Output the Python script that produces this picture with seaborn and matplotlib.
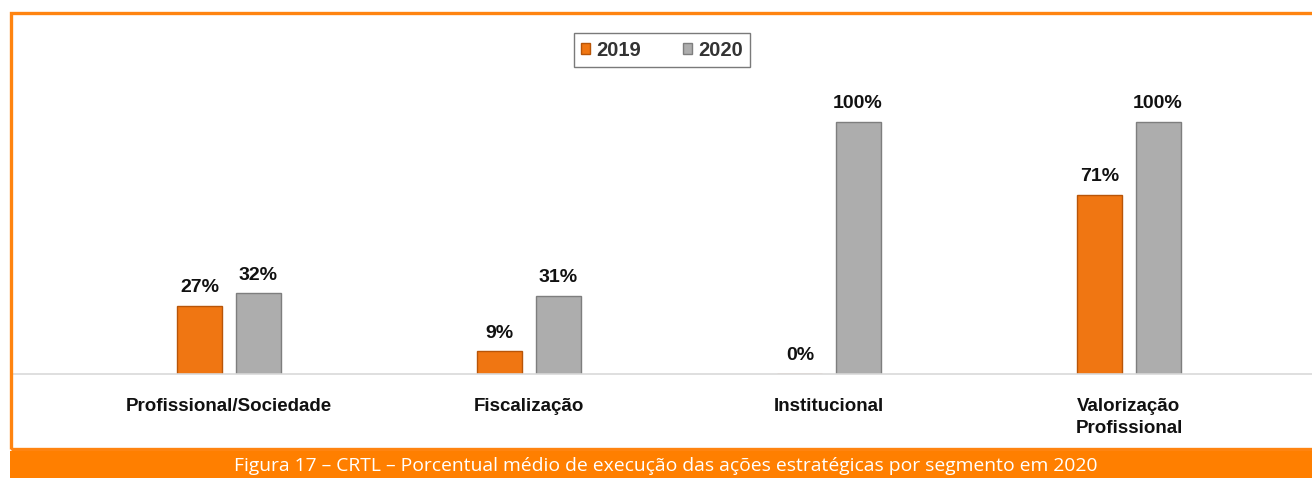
import pandas as pd
import seaborn as sns
import matplotlib.pyplot as plt
from matplotlib.patches import Rectangle

# data
segments = ["Profissional/Sociedade", "Fiscalização", "Institucional", "Valorização\nProfissional"]
years = ["2019", "2020"]
pct_2019 = [27, 9, 0, 71]
pct_2020 = [32, 31, 100, 100]
caption = "Figura 17 – CRTL – Porcentual médio de execução das ações estratégicas por segmento em 2020"

orange = "#F07612"
gray = "#ADADAD"

df = pd.DataFrame({
    "Segmento": segments * 2,
    "Ano": [years[0]] * len(segments) + [years[1]] * len(segments),
    "Pct": pct_2019 + pct_2020,
})

sns.set_style("white")
plt.rcParams["font.family"] = ["Liberation Sans", "DejaVu Sans"]

W, H = 1312, 478
fig = plt.figure(figsize=(W / 100, H / 100), dpi=100)

# axes placed in pixel terms: baseline at y=374, 100% at y=122
y_base, y_100 = 374, 122
ymax = 120
top_px = y_base - (y_base - y_100) * ymax / 100
ax = fig.add_axes([12 / W, (H - y_base) / H, 1 - 12 / W, (y_base - top_px) / H])

sns.barplot(data=df, x="Segmento", y="Pct", hue="Ano", palette=[orange, gray],
            saturation=1, width=0.388, gap=0.227, ax=ax, legend=True)

edges = {orange: "#B85508", gray: "#7E7E7E"}
for cont, col in zip(ax.containers, [orange, gray]):
    for bar in cont:
        bar.set_edgecolor(edges[col])
        bar.set_linewidth(1.0)
    ax.bar_label(cont, labels=[f"{v:.0f}%" for v in cont.datavalues],
                 padding=7, fontsize=14, fontweight="bold", color="#111111")

ax.set_xlim(-0.723, 3.61)
ax.set_ylim(0, ymax)
ax.set_xlabel("")
ax.set_ylabel("")
ax.set_yticks([])
ax.tick_params(axis="x", length=0, pad=17)
for lab in ax.get_xticklabels():
    lab.set_fontsize(13.5)
    lab.set_fontweight("bold")
    lab.set_color("#111111")
    lab.set_linespacing(1.45)
for s in ["top", "left", "right"]:
    ax.spines[s].set_visible(False)
ax.spines["bottom"].set_color("#D9D9D9")
ax.spines["bottom"].set_linewidth(1.2)

handles, labels = ax.get_legend_handles_labels()
ax.get_legend().remove()
for h in handles:
    h.set_edgecolor(edges[orange] if h.get_facecolor()[0] > 0.8 else edges[gray])
leg = fig.legend(handles, labels, loc="center", bbox_to_anchor=(662 / W, 1 - 50 / H),
                 ncol=2, frameon=True, fancybox=False, edgecolor="#595959",
                 handlelength=0.45, handleheight=0.45, handletextpad=0.3,
                 columnspacing=2.1, borderpad=0.35, borderaxespad=0,
                 prop={"weight": "bold", "size": 14.5})
leg.get_frame().set_linewidth(1.0)
for t in leg.get_texts():
    t.set_color("#333333")

# orange frame and caption band
fig.patches.append(Rectangle((11 / W, (H - 449) / H), 1.2, (449 - 13) / H,
                             transform=fig.transFigure, fill=False,
                             edgecolor="#FF8410", linewidth=2.4))
fig.patches.append(Rectangle((10 / W, 0), 1, (H - 451) / H,
                             transform=fig.transFigure, facecolor="#FF7F00",
                             edgecolor="none"))
fig.text(666 / W, (H - 466) / H, caption, ha="center", va="center",
         color="white", fontsize=13.9, family=["Open Sans", "DejaVu Sans"])

fig.savefig("out.png", dpi=100)
